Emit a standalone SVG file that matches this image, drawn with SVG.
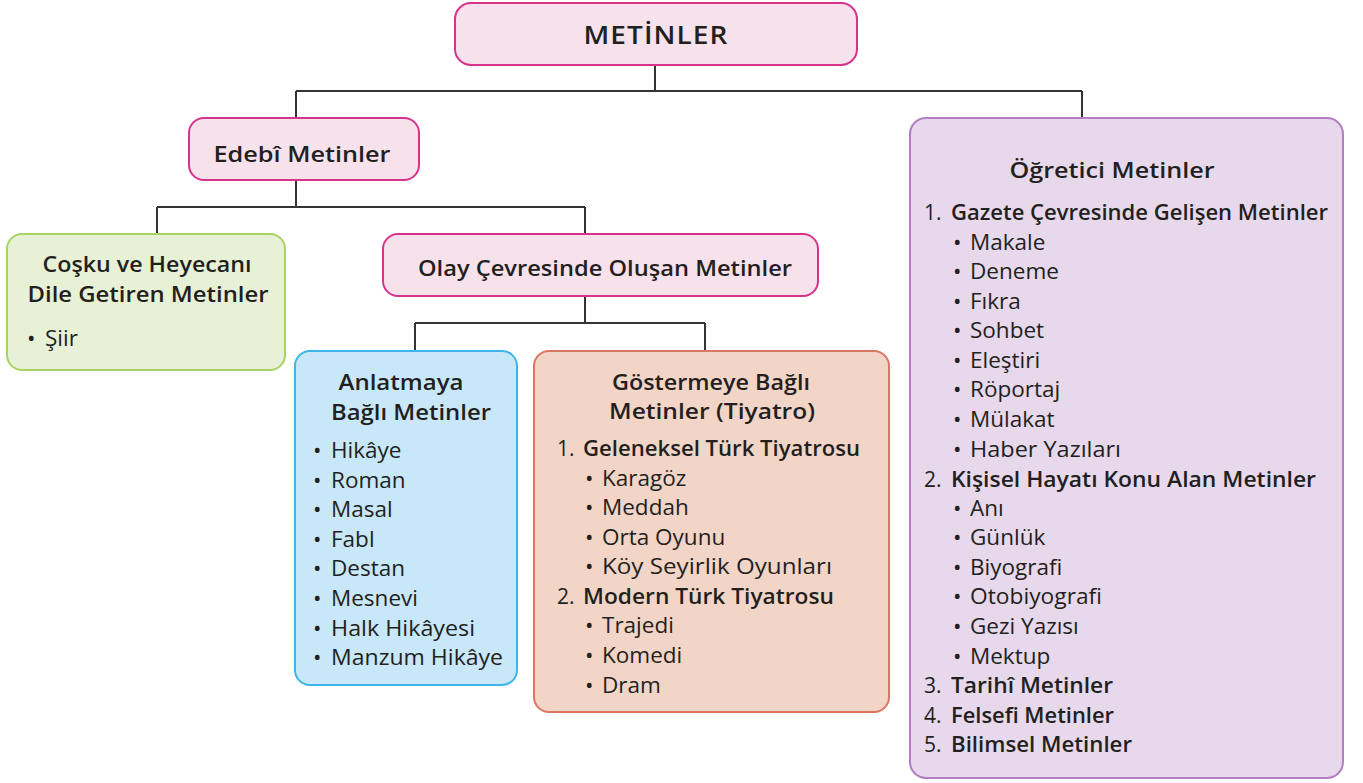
<svg xmlns="http://www.w3.org/2000/svg" width="1363" height="783" viewBox="0 0 1363 783">
<style>
text{font-family:"Open Sans","Noto Sans","Liberation Sans",sans-serif;fill:#231f20;font-size:22.5px}
.h{font-weight:600;font-size:22px}
.t{font-size:26px;font-weight:600;letter-spacing:1px}
.c{text-anchor:middle}
.n{font-size:21px}
.box{stroke-width:2}
.pink{fill:#f7e2ec;stroke:#d8338c}
.green{fill:#e7f1d6;stroke:#a9d263}
.blue{fill:#c8e8f9;stroke:#3db5e9}
.orange{fill:#f3d5c7;stroke:#db7760}
.purple{fill:#e7d8ec;stroke:#b27fc2}
.ln{fill:none;stroke:#333;stroke-width:2}
</style>
<rect width="1363" height="783" fill="#fff"/>
<g id="connectors">
<path class="ln" d="M655 65V91M296 91H1082M296 91V118M1082 91V118"/>
<path class="ln" d="M296 180V207M157 207H585M157 207V234M585 207V234"/>
<path class="ln" d="M585 296V323M415 323H705M415 323V351M705 323V351"/>
</g>
<g id="metinler">
<rect class="box pink" x="455" y="3" width="402" height="62" rx="16"/>
<text class="t c" x="656" y="44" textLength="145" lengthAdjust="spacingAndGlyphs">METİNLER</text>
</g>
<g id="edebi">
<rect class="box pink" x="189" y="118" width="230" height="62" rx="15"/>
<text class="h c" x="302" y="162" textLength="177" lengthAdjust="spacingAndGlyphs">Edebî Metinler</text>
</g>
<g id="coskunode">
<rect class="box green" x="7" y="234" width="278" height="136" rx="15"/>
<text class="h c" x="147" y="272" textLength="209" lengthAdjust="spacingAndGlyphs">Coşku ve Heyecanı</text>
<text class="h c" x="148" y="302" textLength="241" lengthAdjust="spacingAndGlyphs">Dile Getiren Metinler</text>
<text x="27" y="346">•</text><text x="45" y="346">Şiir</text>
</g>
<g id="olay">
<rect class="box pink" x="383" y="234" width="435" height="62" rx="15"/>
<text class="h c" x="605" y="276" textLength="374" lengthAdjust="spacingAndGlyphs">Olay Çevresinde Oluşan Metinler</text>
</g>
<g id="anlatmaya">
<rect class="box blue" x="295" y="351" width="222" height="334" rx="15"/>
<text class="h c" x="401" y="390" textLength="125" lengthAdjust="spacingAndGlyphs">Anlatmaya</text>
<text class="h c" x="411" y="420" textLength="160" lengthAdjust="spacingAndGlyphs">Bağlı Metinler</text>
<g>
<text x="313" y="458">•</text><text x="331" y="458">Hikâye</text>
<text x="313" y="488">•</text><text x="331" y="488">Roman</text>
<text x="313" y="517">•</text><text x="331" y="517">Masal</text>
<text x="313" y="547">•</text><text x="331" y="547">Fabl</text>
<text x="313" y="576">•</text><text x="331" y="576">Destan</text>
<text x="313" y="606">•</text><text x="331" y="606">Mesnevi</text>
<text x="313" y="636">•</text><text x="331" y="636" textLength="144" lengthAdjust="spacingAndGlyphs">Halk Hikâyesi</text>
<text x="313" y="665">•</text><text x="331" y="665" textLength="172" lengthAdjust="spacingAndGlyphs">Manzum Hikâye</text>
</g>
</g>
<g id="gostermeye">
<rect class="box orange" x="534" y="351" width="355" height="361" rx="15"/>
<text class="h c" x="711" y="390" textLength="198" lengthAdjust="spacingAndGlyphs">Göstermeye Bağlı</text>
<text class="h c" x="712" y="419" textLength="206" lengthAdjust="spacingAndGlyphs">Metinler (Tiyatro)</text>
<text class="n" x="557" y="456">1.</text><text class="h" x="583" y="456" textLength="277" lengthAdjust="spacingAndGlyphs">Geleneksel Türk Tiyatrosu</text>
<text x="585" y="486">•</text><text x="602" y="486">Karagöz</text>
<text x="585" y="515">•</text><text x="602" y="515">Meddah</text>
<text x="585" y="545">•</text><text x="602" y="545">Orta Oyunu</text>
<text x="585" y="574">•</text><text x="602" y="574" textLength="230" lengthAdjust="spacingAndGlyphs">Köy Seyirlik Oyunları</text>
<text class="n" x="557" y="604">2.</text><text class="h" x="583" y="604" textLength="251" lengthAdjust="spacingAndGlyphs">Modern Türk Tiyatrosu</text>
<text x="585" y="633">•</text><text x="602" y="633">Trajedi</text>
<text x="585" y="663">•</text><text x="602" y="663">Komedi</text>
<text x="585" y="693">•</text><text x="602" y="693">Dram</text>
</g>
<g id="ogretici">
<rect class="box purple" x="910" y="118" width="433" height="660" rx="16"/>
<text class="h c" x="1112" y="178" textLength="205" lengthAdjust="spacingAndGlyphs">Öğretici Metinler</text>
<text class="n" x="924" y="220">1.</text><text class="h" x="951" y="220" textLength="377" lengthAdjust="spacingAndGlyphs">Gazete Çevresinde Gelişen Metinler</text>
<text x="953" y="250">•</text><text x="970" y="250">Makale</text>
<text x="953" y="279">•</text><text x="970" y="279">Deneme</text>
<text x="953" y="309">•</text><text x="970" y="309">Fıkra</text>
<text x="953" y="338">•</text><text x="970" y="338">Sohbet</text>
<text x="953" y="368">•</text><text x="970" y="368">Eleştiri</text>
<text x="953" y="397">•</text><text x="970" y="397">Röportaj</text>
<text x="953" y="427">•</text><text x="970" y="427">Mülakat</text>
<text x="953" y="457">•</text><text x="970" y="457" textLength="151" lengthAdjust="spacingAndGlyphs">Haber Yazıları</text>
<text class="n" x="924" y="487">2.</text><text class="h" x="951" y="487" textLength="365" lengthAdjust="spacingAndGlyphs">Kişisel Hayatı Konu Alan Metinler</text>
<text x="953" y="516">•</text><text x="970" y="516">Anı</text>
<text x="953" y="545">•</text><text x="970" y="545">Günlük</text>
<text x="953" y="575">•</text><text x="970" y="575">Biyografi</text>
<text x="953" y="604">•</text><text x="970" y="604" textLength="132" lengthAdjust="spacingAndGlyphs">Otobiyografi</text>
<text x="953" y="634">•</text><text x="970" y="634">Gezi Yazısı</text>
<text x="953" y="664">•</text><text x="970" y="664">Mektup</text>
<text class="n" x="924" y="693">3.</text><text class="h" x="951" y="693" textLength="162" lengthAdjust="spacingAndGlyphs">Tarihî Metinler</text>
<text class="n" x="924" y="723">4.</text><text class="h" x="951" y="723" textLength="163" lengthAdjust="spacingAndGlyphs">Felsefi Metinler</text>
<text class="n" x="924" y="752">5.</text><text class="h" x="951" y="752" textLength="181" lengthAdjust="spacingAndGlyphs">Bilimsel Metinler</text>
</g>
</svg>
